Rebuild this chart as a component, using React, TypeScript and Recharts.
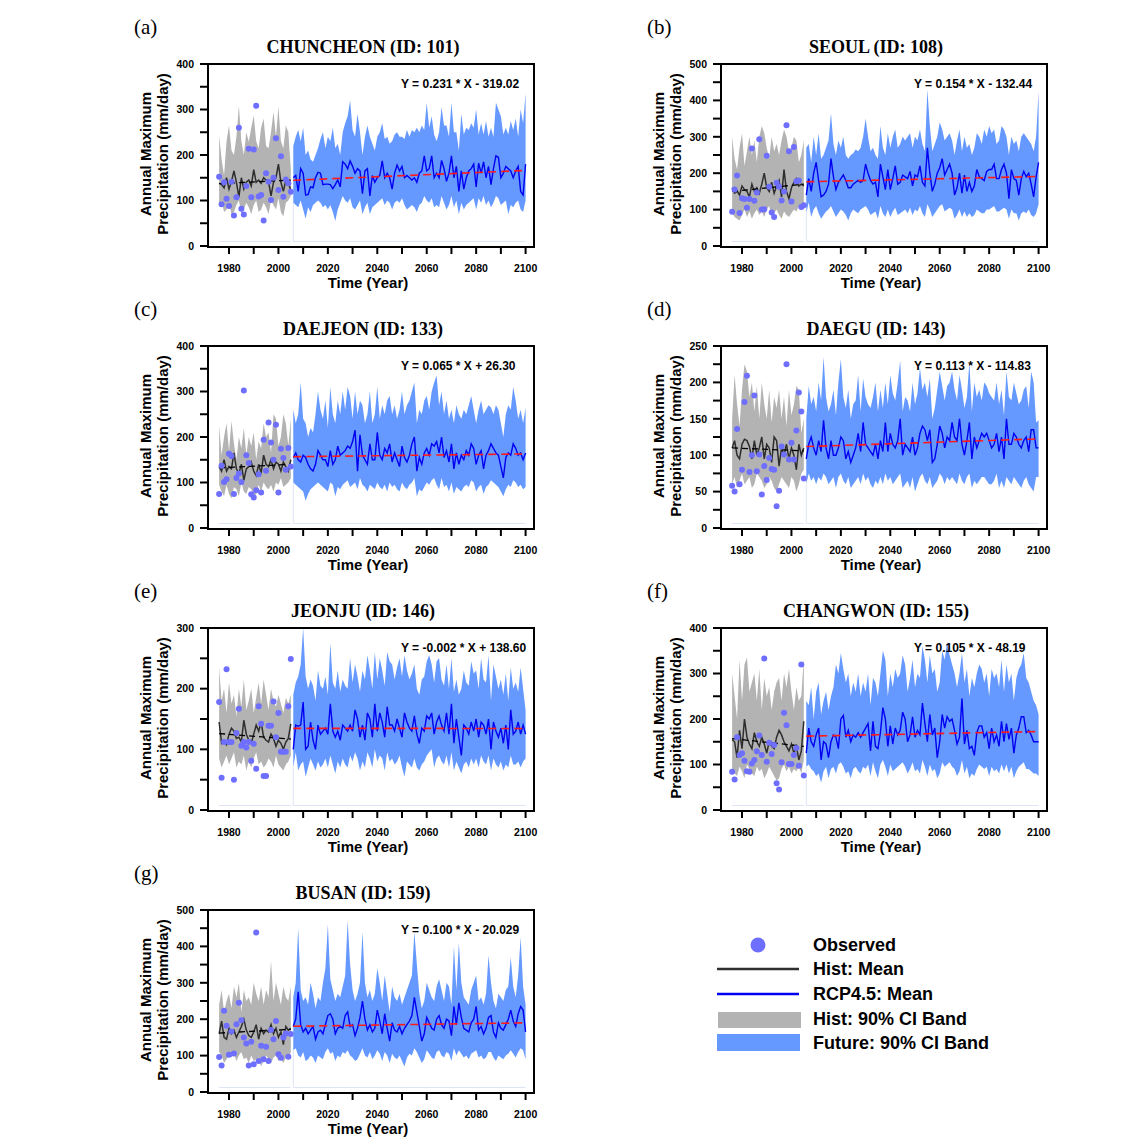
import React from "react";
import { ComposedChart, Area, Line, Scatter, XAxis, YAxis, ReferenceLine } from "recharts";

const SANS = "'Liberation Sans', Arial, sans-serif";
const SERIF = "'Liberation Serif', 'Times New Roman', serif";

const HIST_FIRST = 1976;
const FUT_FIRST = 2006;
const FUT_LAST = 2100;

const xTicks = [1980, 1990, 2000, 2010, 2020, 2030, 2040, 2050, 2060, 2070, 2080, 2090, 2100];
const yTicks250 = [0, 25, 50, 75, 100, 125, 150, 175, 200, 225, 250];
const yTicks300 = [0, 50, 100, 150, 200, 250, 300];
const yTicks400 = [0, 50, 100, 150, 200, 250, 300, 350, 400];
const yTicks500 = [0, 50, 100, 150, 200, 250, 300, 350, 400, 450, 500];

// ---- (a) CHUNCHEON ----
const chuncheonObs = [
  152, 92, 140, 104, 88, 141, 67, 107, 260, 82,
  69, 132, 214, 107, 212, 308, 109, 112, 56, 160,
  141, 101, 150, 237, 123, 197, 108, 146, 138, 119,
];
const chuncheonHistMean = [
  138, 135, 128, 150, 125, 142, 165, 140, 108, 150,
  125, 140, 145, 132, 168, 140, 145, 138, 150, 145,
  142, 110, 140, 150, 180, 140, 120, 145, 140, 122,
];
const chuncheonHistHi = [
  243, 190, 155, 230, 265, 210, 200, 240, 308, 230,
  200, 250, 229, 260, 287, 230, 215, 260, 280, 220,
  215, 250, 295, 240, 306, 230, 215, 265, 250, 170,
];
const chuncheonHistLo = [
  85, 100, 75, 80, 95, 70, 75, 90, 100, 72,
  80, 95, 85, 70, 90, 100, 75, 80, 95, 85,
  70, 100, 90, 80, 105, 75, 65, 95, 100, 110,
];
const chuncheonFutMean = [
  150, 155, 120, 170, 160, 112, 113, 130, 128, 150,
  162, 160, 135, 136, 136, 135, 126, 135, 145, 130,
  185, 180, 170, 187, 175, 160, 170, 165, 115, 165,
  170, 110, 155, 140, 150, 155, 187, 150, 160, 150,
  125, 160, 178, 165, 175, 150, 155, 150, 145, 150,
  140, 160, 165, 198, 165, 170, 198, 150, 160, 150,
  188, 170, 142, 160, 198, 150, 175, 120, 165, 125,
  150, 165, 170, 180, 130, 182, 160, 185, 150, 175,
  135, 170, 198, 195, 150, 160, 175, 170, 165, 150,
  165, 175, 120, 112, 180,
];
const chuncheonFutHi = [
  220, 240, 255, 230, 260, 200, 210, 190, 185, 200,
  215, 235, 250, 215, 240, 230, 260, 215, 225, 200,
  250, 270, 285, 320, 255, 240, 290, 250, 200, 240,
  265, 240, 225, 210, 240, 250, 270, 235, 240, 225,
  230, 245, 250, 240, 240, 235, 255, 240, 255, 250,
  260, 250, 265, 255, 315, 260, 285, 245, 230, 250,
  305, 265, 265, 240, 315, 250, 250, 210, 290, 245,
  260, 255, 270, 260, 300, 245, 270, 245, 275, 240,
  260, 240, 315, 300, 285, 245, 260, 245, 275, 255,
  280, 240, 300, 270, 335,
];
const chuncheonFutLo = [
  95, 90, 85, 100, 80, 60, 85, 75, 90, 95,
  100, 95, 85, 90, 80, 90, 75, 55, 80, 95,
  110, 100, 95, 105, 85, 80, 90, 100, 70, 85,
  95, 70, 85, 90, 95, 100, 105, 90, 100, 95,
  80, 95, 100, 95, 105, 90, 80, 85, 90, 85,
  75, 90, 95, 110, 100, 95, 105, 85, 90, 85,
  110, 95, 80, 90, 110, 85, 100, 70, 95, 80,
  90, 95, 100, 105, 80, 105, 95, 110, 90, 100,
  85, 95, 110, 105, 90, 95, 100, 70, 90, 85,
  95, 100, 80, 75, 100,
];

// ---- (b) SEOUL ----
const seoulObs = [
  94, 155, 194, 91, 131, 129, 105, 129, 268, 124,
  147, 293, 100, 101, 248, 163, 92, 80, 174, 163,
  125, 150, 332, 260, 122, 272, 178, 180, 107, 112,
];
const seoulHistMean = [
  160, 145, 150, 140, 165, 155, 150, 135, 170, 150,
  160, 145, 170, 200, 160, 150, 175, 145, 165, 180,
  135, 210, 150, 130, 160, 175, 185, 165, 170, 165,
];
const seoulHistHi = [
  300, 240, 210, 270, 310, 220, 260, 300, 250, 290,
  230, 300, 330, 310, 270, 240, 300, 260, 280, 250,
  290, 320, 300, 260, 270, 300, 290, 230, 250, 290,
];
const seoulHistLo = [
  90, 80, 75, 70, 85, 100, 80, 95, 75, 90,
  100, 85, 95, 80, 100, 110, 80, 90, 100, 85,
  75, 95, 85, 80, 90, 100, 95, 110, 100, 120,
];
const seoulFutMean = [
  140, 185, 150, 200, 230, 180, 135, 140, 150, 170,
  240, 190, 155, 175, 185, 195, 180, 160, 160, 170,
  175, 180, 175, 180, 225, 200, 180, 170, 175, 135,
  225, 190, 155, 210, 155, 185, 220, 170, 175, 195,
  190, 185, 205, 165, 195, 190, 220, 175, 165, 270,
  200, 150, 170, 200, 215, 240, 195, 210, 225, 200,
  140, 160, 200, 145, 195, 150, 175, 150, 165, 210,
  190, 185, 180, 205, 210, 210, 225, 185, 185, 210,
  225, 200, 130, 210, 185, 180, 140, 185, 205, 190,
  200, 170, 135, 190, 230,
];
const seoulFutHi = [
  270, 280, 230, 300, 250, 310, 240, 250, 270, 290,
  365, 280, 250, 290, 270, 300, 250, 240, 250, 255,
  265, 260, 270, 300, 350, 300, 260, 270, 250, 240,
  330, 270, 250, 310, 270, 300, 320, 270, 280, 300,
  290, 300, 310, 270, 300, 290, 320, 280, 260, 430,
  330, 260, 280, 300, 340, 320, 290, 300, 310, 290,
  250, 290, 320, 260, 300, 270, 280, 250, 270, 310,
  300, 280, 320, 300, 330, 310, 320, 280, 290, 330,
  320, 300, 250, 300, 280, 290, 260, 300, 310, 300,
  290, 280, 260, 300, 425,
];
const seoulFutLo = [
  90, 120, 80, 100, 110, 90, 75, 85, 95, 100,
  110, 95, 80, 90, 100, 95, 85, 70, 90, 100,
  95, 90, 100, 105, 110, 100, 85, 90, 95, 75,
  110, 90, 80, 100, 80, 95, 105, 85, 90, 95,
  100, 90, 105, 85, 100, 95, 110, 90, 80, 115,
  100, 80, 90, 100, 110, 115, 95, 100, 105, 100,
  75, 85, 100, 80, 95, 80, 90, 80, 85, 100,
  95, 90, 90, 100, 100, 105, 110, 95, 95, 100,
  105, 100, 75, 100, 90, 90, 70, 90, 95, 90,
  100, 85, 80, 90, 115,
];

// ---- (c) DAEJEON ----
const daejeonObs = [
  75, 137, 101, 107, 163, 158, 75, 110, 120, 101,
  302, 160, 143, 74, 67, 83, 118, 78, 194, 126,
  232, 188, 150, 227, 78, 174, 154, 128, 176, 135,
];
const daejeonHistMean = [
  135, 125, 150, 125, 135, 130, 165, 130, 120, 140,
  105, 130, 135, 145, 125, 115, 140, 120, 160, 140,
  135, 150, 130, 145, 140, 125, 145, 135, 125, 150,
];
const daejeonHistHi = [
  225, 160, 200, 230, 170, 235, 185, 150, 200, 175,
  220, 160, 200, 180, 210, 150, 190, 175, 230, 200,
  210, 165, 250, 240, 180, 200, 250, 230, 180, 240,
];
const daejeonHistLo = [
  95, 80, 70, 95, 75, 65, 90, 85, 70, 100,
  80, 75, 90, 85, 70, 75, 95, 80, 100, 90,
  85, 95, 80, 100, 95, 110, 90, 95, 100, 110,
];
const daejeonFutMean = [
  155, 165, 150, 145, 160, 155, 140, 130, 125, 140,
  170, 160, 150, 150, 135, 170, 140, 150, 180, 160,
  165, 170, 180, 175, 190, 215, 125, 205, 160, 150,
  140, 185, 150, 150, 210, 160, 150, 175, 165, 185,
  145, 165, 150, 135, 180, 155, 145, 160, 185, 200,
  125, 155, 140, 165, 175, 160, 185, 180, 190, 165,
  200, 155, 170, 145, 185, 130, 165, 140, 160, 150,
  170, 160, 185, 175, 140, 160, 170, 130, 160, 170,
  185, 175, 165, 160, 135, 110, 155, 165, 160, 185,
  175, 160, 165, 150, 165,
];
const daejeonFutHi = [
  260, 230, 250, 320, 240, 230, 200, 220, 210, 250,
  300, 260, 240, 280, 220, 310, 250, 230, 280, 250,
  300, 260, 310, 290, 240, 300, 250, 280, 270, 230,
  250, 300, 230, 250, 310, 240, 270, 250, 280, 290,
  250, 270, 240, 260, 300, 250, 270, 280, 300, 320,
  230, 260, 250, 280, 290, 260, 300, 320, 335, 270,
  300, 250, 280, 240, 260, 230, 270, 250, 240, 260,
  250, 270, 290, 260, 230, 260, 280, 250, 260, 270,
  265, 250, 270, 260, 230, 200, 250, 270, 260, 310,
  280, 240, 260, 230, 265,
];
const daejeonFutLo = [
  100, 95, 90, 85, 80, 60, 75, 85, 90, 95,
  100, 95, 90, 85, 80, 100, 95, 70, 90, 85,
  95, 100, 105, 90, 95, 100, 85, 110, 95, 90,
  80, 95, 90, 85, 100, 90, 85, 95, 80, 100,
  90, 95, 85, 80, 100, 90, 85, 95, 100, 110,
  70, 85, 80, 90, 100, 95, 105, 110, 95, 85,
  110, 90, 95, 80, 100, 75, 90, 85, 80, 90,
  95, 90, 105, 100, 80, 90, 95, 75, 90, 95,
  105, 100, 95, 90, 80, 70, 85, 95, 90, 105,
  100, 90, 95, 85, 90,
];

// ---- (d) DAEGU ----
const daeguObs = [
  58, 50, 136, 60, 80, 173, 209, 77, 100, 182,
  78, 101, 46, 85, 66, 96, 81, 80, 30, 51,
  112, 101, 225, 94, 117, 94, 134, 186, 160, 68,
];
const daeguHistMean = [
  110, 120, 100, 95, 115, 122, 120, 112, 95, 120,
  100, 110, 125, 95, 115, 110, 90, 125, 120, 85,
  110, 100, 115, 95, 110, 100, 80, 115, 100, 110,
];
const daeguHistHi = [
  150, 210, 170, 140, 190, 225, 215, 180, 200, 160,
  195, 150, 200, 170, 150, 190, 145, 180, 165, 190,
  150, 180, 140, 190, 155, 170, 195, 190, 130, 150,
];
const daeguHistLo = [
  60, 70, 55, 65, 75, 60, 65, 70, 55, 60,
  75, 70, 65, 55, 60, 70, 65, 55, 50, 60,
  70, 65, 60, 55, 70, 65, 50, 60, 75, 80,
];
const daeguFutMean = [
  95, 115, 125, 110, 100, 120, 105, 148, 110, 95,
  120, 100, 100, 110, 125, 120, 95, 105, 90, 100,
  110, 130, 105, 145, 115, 110, 105, 100, 115, 95,
  120, 105, 145, 105, 130, 115, 110, 120, 150, 100,
  115, 110, 105, 125, 100, 110, 130, 140, 135, 120,
  135, 90, 95, 115, 140, 130, 110, 125, 120, 145,
  125, 120, 150, 115, 100, 120, 145, 95, 125, 110,
  120, 130, 125, 130, 120, 110, 115, 130, 105, 125,
  95, 150, 115, 115, 130, 125, 115, 110, 120, 125,
  105, 135, 135, 110, 110,
];
const daeguFutHi = [
  150, 195, 170, 180, 160, 200, 175, 235, 180, 160,
  170, 190, 155, 200, 232, 180, 165, 190, 150, 170,
  175, 210, 160, 205, 180, 170, 165, 180, 200, 160,
  190, 165, 200, 170, 210, 185, 175, 200, 230, 160,
  180, 175, 160, 200, 170, 185, 220, 190, 200, 180,
  205, 150, 165, 190, 215, 195, 175, 195, 200, 215,
  190, 175, 210, 190, 165, 180, 228, 160, 200, 180,
  190, 175, 200, 195, 185, 180, 175, 200, 170, 190,
  155, 215, 180, 175, 200, 185, 170, 175, 190, 195,
  165, 215, 200, 145, 148,
];
const daeguFutLo = [
  60, 75, 65, 70, 60, 70, 65, 75, 70, 60,
  65, 70, 55, 70, 75, 65, 60, 70, 55, 60,
  65, 70, 60, 75, 65, 70, 60, 55, 65, 60,
  70, 60, 75, 65, 70, 60, 65, 70, 75, 55,
  60, 65, 55, 70, 50, 60, 70, 75, 65, 60,
  70, 55, 60, 65, 75, 70, 60, 70, 65, 70,
  65, 60, 75, 65, 60, 70, 75, 55, 65, 60,
  65, 70, 70, 65, 60, 60, 65, 75, 55, 65,
  55, 70, 65, 60, 70, 65, 60, 55, 65, 70,
  60, 55, 50, 70, 70,
];

// ---- (e) JEONJU ----
const jeonjuObs = [
  178, 53, 112, 232, 112, 112, 50, 127, 167, 106,
  112, 103, 112, 81, 109, 68, 171, 142, 56, 56,
  139, 139, 179, 120, 160, 96, 96, 96, 171, 249,
];
const jeonjuHistMean = [
  145, 110, 115, 108, 125, 135, 130, 118, 120, 112,
  148, 125, 115, 110, 125, 140, 130, 145, 120, 115,
  112, 125, 118, 105, 115, 110, 100, 112, 118, 142,
];
const jeonjuHistHi = [
  235, 180, 200, 160, 210, 175, 190, 155, 200, 170,
  215, 165, 180, 200, 160, 185, 210, 175, 215, 190,
  165, 200, 180, 170, 190, 175, 160, 185, 175, 190,
];
const jeonjuHistLo = [
  85, 70, 80, 90, 75, 85, 95, 70, 80, 75,
  90, 65, 80, 70, 85, 95, 75, 80, 70, 75,
  85, 80, 70, 90, 75, 70, 65, 75, 80, 90,
];
const jeonjuFutMean = [
  100, 140, 138, 140, 178, 100, 105, 145, 115, 100,
  140, 125, 130, 135, 125, 175, 130, 120, 130, 115,
  140, 135, 130, 140, 130, 165, 150, 120, 140, 115,
  160, 150, 120, 175, 130, 160, 145, 120, 170, 140,
  140, 130, 150, 135, 120, 160, 145, 135, 130, 155,
  125, 110, 135, 130, 155, 150, 160, 125, 145, 155,
  140, 130, 160, 125, 175, 110, 150, 120, 90, 140,
  135, 125, 145, 130, 150, 120, 145, 140, 125, 150,
  100, 145, 130, 120, 135, 110, 140, 100, 165, 125,
  130, 145, 125, 140, 125,
];
const jeonjuFutHi = [
  190, 210, 220, 240, 300, 220, 200, 215, 205, 180,
  230, 205, 200, 220, 190, 275, 210, 200, 230, 195,
  215, 205, 200, 250, 210, 240, 220, 195, 230, 215,
  255, 230, 200, 260, 215, 250, 230, 205, 260, 245,
  240, 215, 235, 250, 220, 255, 230, 215, 225, 240,
  200, 190, 215, 220, 245, 255, 240, 210, 245, 250,
  215, 205, 240, 200, 250, 195, 215, 190, 200, 230,
  210, 205, 245, 225, 230, 200, 250, 215, 210, 255,
  180, 240, 220, 200, 215, 190, 225, 180, 235, 200,
  210, 195, 235, 200, 165,
];
const jeonjuFutLo = [
  70, 95, 65, 75, 80, 55, 70, 85, 75, 65,
  80, 70, 75, 85, 70, 90, 75, 60, 80, 70,
  85, 75, 70, 90, 80, 95, 85, 65, 80, 70,
  95, 85, 70, 100, 80, 90, 85, 65, 95, 80,
  85, 75, 80, 90, 70, 55, 80, 75, 70, 85,
  70, 65, 75, 80, 90, 95, 100, 70, 85, 90,
  80, 75, 90, 70, 95, 65, 80, 70, 60, 75,
  80, 70, 85, 75, 85, 70, 90, 80, 75, 90,
  65, 85, 75, 70, 80, 65, 75, 70, 90, 75,
  75, 80, 70, 80, 85,
];

// ---- (f) CHANGWON ----
const changwonObs = [
  84, 67, 160, 121, 125, 108, 85, 84, 102, 110,
  129, 164, 121, 333, 106, 148, 123, 143, 59, 45,
  105, 214, 186, 101, 101, 121, 136, 97, 320, 76,
];
const changwonHistMean = [
  155, 150, 115, 175, 135, 200, 160, 145, 135, 170,
  150, 140, 160, 145, 125, 150, 140, 135, 160, 175,
  165, 150, 140, 130, 145, 125, 140, 110, 130, 195,
];
const changwonHistHi = [
  300, 250, 200, 330, 240, 320, 335, 260, 280, 300,
  240, 310, 220, 290, 250, 270, 220, 260, 280, 290,
  240, 300, 270, 310, 260, 220, 270, 240, 250, 335,
];
const changwonHistLo = [
  90, 80, 75, 95, 85, 70, 100, 90, 80, 75,
  95, 85, 90, 70, 80, 95, 85, 75, 65, 70,
  90, 100, 85, 95, 80, 90, 85, 95, 80, 110,
];
const changwonFutMean = [
  125, 180, 150, 140, 165, 180, 110, 150, 145, 115,
  150, 165, 160, 135, 200, 208, 160, 175, 150, 165,
  160, 170, 160, 170, 180, 190, 130, 195, 140, 135,
  170, 225, 200, 140, 185, 145, 180, 165, 175, 215,
  200, 150, 165, 205, 160, 175, 165, 235, 190, 150,
  210, 165, 180, 115, 150, 210, 180, 205, 195, 200,
  175, 145, 160, 245, 145, 175, 135, 140, 120, 170,
  185, 185, 160, 170, 135, 180, 150, 165, 140, 195,
  150, 190, 155, 180, 125, 165, 180, 205, 205, 170,
  175, 165, 150, 150, 150,
];
const changwonFutHi = [
  240, 230, 270, 200, 260, 280, 210, 240, 260, 220,
  250, 270, 320, 300, 345, 310, 280, 300, 250, 280,
  260, 300, 250, 280, 260, 300, 230, 290, 280, 250,
  300, 350, 330, 250, 300, 270, 310, 290, 300, 340,
  320, 260, 290, 330, 270, 300, 290, 360, 330, 280,
  340, 300, 310, 260, 280, 350, 330, 370, 340, 320,
  300, 270, 300, 345, 280, 310, 250, 290, 270, 300,
  320, 310, 280, 300, 250, 310, 290, 300, 270, 330,
  260, 320, 280, 300, 240, 290, 310, 320, 345, 290,
  280, 260, 240, 230, 210,
];
const changwonFutLo = [
  95, 100, 90, 85, 75, 80, 60, 85, 95, 70,
  90, 95, 80, 100, 105, 95, 80, 85, 70, 90,
  95, 85, 80, 95, 90, 100, 75, 105, 85, 70,
  100, 110, 95, 75, 100, 85, 90, 95, 100, 105,
  95, 80, 90, 105, 85, 90, 80, 110, 95, 75,
  100, 85, 90, 70, 80, 105, 95, 100, 105, 95,
  90, 75, 85, 110, 80, 95, 70, 80, 75, 90,
  100, 95, 90, 95, 75, 95, 85, 90, 80, 100,
  85, 100, 80, 95, 70, 85, 95, 100, 105, 90,
  90, 85, 80, 80, 75,
];

// ---- (g) BUSAN ----
const busanObs = [
  96, 73, 223, 182, 102, 166, 106, 186, 245, 197,
  150, 133, 73, 138, 76, 438, 85, 127, 90, 124,
  85, 170, 145, 195, 104, 94, 150, 161, 97, 159,
];
const busanHistMean = [
  160, 195, 150, 145, 175, 160, 170, 150, 165, 180,
  200, 170, 155, 150, 165, 185, 145, 175, 160, 170,
  165, 185, 160, 175, 150, 165, 130, 180, 170, 175,
];
const busanHistHi = [
  240, 280, 220, 250, 270, 230, 290, 260, 300, 220,
  280, 250, 260, 240, 300, 270, 250, 290, 240, 280,
  260, 360, 250, 300, 270, 240, 290, 260, 250, 290,
];
const busanHistLo = [
  110, 100, 80, 90, 100, 95, 105, 85, 100, 110,
  90, 95, 80, 100, 85, 90, 95, 70, 85, 100,
  90, 80, 95, 100, 85, 90, 80, 95, 90, 110,
];
const busanFutMean = [
  180, 200, 275, 185, 165, 175, 160, 170, 180, 145,
  165, 170, 160, 185, 210, 215, 200, 160, 175, 180,
  175, 210, 220, 180, 185, 155, 175, 205, 250, 200,
  170, 185, 165, 175, 225, 195, 160, 215, 175, 140,
  190, 170, 165, 180, 160, 175, 185, 195, 210, 260,
  220, 180, 140, 160, 205, 190, 175, 170, 200, 210,
  185, 175, 200, 195, 155, 235, 185, 245, 205, 175,
  170, 165, 190, 200, 235, 170, 180, 160, 175, 205,
  210, 165, 150, 190, 175, 170, 185, 200, 225, 195,
  180, 215, 235, 225, 165,
];
const busanFutHi = [
  260, 300, 450, 280, 250, 260, 240, 300, 270, 230,
  260, 250, 300, 340, 460, 310, 280, 250, 270, 260,
  290, 320, 470, 350, 280, 250, 270, 300, 440, 300,
  260, 280, 250, 270, 340, 300, 250, 320, 270, 220,
  290, 260, 250, 270, 240, 260, 280, 300, 320, 440,
  350, 270, 230, 250, 300, 280, 260, 250, 290, 310,
  280, 250, 300, 290, 240, 400, 280, 410, 300, 260,
  250, 240, 280, 300, 320, 250, 260, 240, 270, 375,
  300, 250, 230, 270, 260, 250, 280, 290, 370, 290,
  260, 320, 425, 290, 240,
];
const busanFutLo = [
  115, 120, 100, 95, 110, 85, 90, 100, 95, 80,
  100, 95, 90, 110, 120, 105, 110, 85, 100, 95,
  110, 105, 115, 100, 95, 85, 90, 105, 120, 100,
  95, 110, 90, 100, 115, 105, 85, 110, 100, 80,
  105, 95, 90, 100, 85, 70, 95, 105, 100, 120,
  110, 95, 80, 90, 115, 105, 95, 90, 110, 115,
  100, 95, 110, 105, 85, 120, 100, 115, 105, 95,
  100, 90, 105, 110, 115, 95, 100, 90, 95, 110,
  110, 95, 85, 100, 95, 90, 100, 105, 115, 105,
  95, 110, 120, 115, 90,
];

type Station = {
  tag: string;
  title: string;
  eq: string;
  slope: number;
  intercept: number;
  histTrend: number[];
  yTicks: number[];
  labelStep: number;
  obs: number[];
  histMean: number[];
  histLo: number[];
  histHi: number[];
  futMean: number[];
  futLo: number[];
  futHi: number[];
};

const stations: Station[] = [
  { tag: "(a)", title: "CHUNCHEON (ID: 101)", eq: "Y = 0.231 * X - 319.02", slope: 0.231, intercept: -319.02, histTrend: [137, 145], yTicks: yTicks400, labelStep: 100, obs: chuncheonObs, histMean: chuncheonHistMean, histLo: chuncheonHistLo, histHi: chuncheonHistHi, futMean: chuncheonFutMean, futLo: chuncheonFutLo, futHi: chuncheonFutHi },
  { tag: "(b)", title: "SEOUL (ID: 108)", eq: "Y = 0.154 * X - 132.44", slope: 0.154, intercept: -132.44, histTrend: [150, 170], yTicks: yTicks500, labelStep: 100, obs: seoulObs, histMean: seoulHistMean, histLo: seoulHistLo, histHi: seoulHistHi, futMean: seoulFutMean, futLo: seoulFutLo, futHi: seoulFutHi },
  { tag: "(c)", title: "DAEJEON (ID: 133)", eq: "Y = 0.065 * X + 26.30", slope: 0.065, intercept: 26.3, histTrend: [132, 140], yTicks: yTicks400, labelStep: 100, obs: daejeonObs, histMean: daejeonHistMean, histLo: daejeonHistLo, histHi: daejeonHistHi, futMean: daejeonFutMean, futLo: daejeonFutLo, futHi: daejeonFutHi },
  { tag: "(d)", title: "DAEGU (ID: 143)", eq: "Y = 0.113 * X - 114.83", slope: 0.113, intercept: -114.83, histTrend: [110, 106], yTicks: yTicks250, labelStep: 50, obs: daeguObs, histMean: daeguHistMean, histLo: daeguHistLo, histHi: daeguHistHi, futMean: daeguFutMean, futLo: daeguFutLo, futHi: daeguFutHi },
  { tag: "(e)", title: "JEONJU (ID: 146)", eq: "Y = -0.002 * X + 138.60", slope: -0.002, intercept: 138.6, histTrend: [126, 117], yTicks: yTicks300, labelStep: 100, obs: jeonjuObs, histMean: jeonjuHistMean, histLo: jeonjuHistLo, histHi: jeonjuHistHi, futMean: jeonjuFutMean, futLo: jeonjuFutLo, futHi: jeonjuFutHi },
  { tag: "(f)", title: "CHANGWON (ID: 155)", eq: "Y = 0.105 * X - 48.19", slope: 0.105, intercept: -48.19, histTrend: [157, 140], yTicks: yTicks400, labelStep: 100, obs: changwonObs, histMean: changwonHistMean, histLo: changwonHistLo, histHi: changwonHistHi, futMean: changwonFutMean, futLo: changwonFutLo, futHi: changwonFutHi },
  { tag: "(g)", title: "BUSAN (ID: 159)", eq: "Y = 0.100 * X - 20.029", slope: 0.1, intercept: -20.029, histTrend: [162, 172], yTicks: yTicks500, labelStep: 100, obs: busanObs, histMean: busanHistMean, histLo: busanHistLo, histHi: busanHistHi, futMean: busanFutMean, futLo: busanFutLo, futHi: busanFutHi },
];

const GREY_BAND = "#b3b3b3";
const BLUE_BAND = "#6699ff";
const HIST_LINE = "#2e2e2e";
const FUT_LINE = "#0000f0";
const OBS_DOT = "#6e6eff";
const FAINT = "#dde4f4";

function buildRows(s: Station) {
  const rows: any[] = [];
  const histLast = HIST_FIRST + s.histMean.length - 1;
  for (let y = HIST_FIRST; y <= FUT_LAST; y++) {
    const h = y - HIST_FIRST;
    const f = y - FUT_FIRST;
    const inHist = h < s.histMean.length;
    const inFut = f >= 0 && f < s.futMean.length;
    rows.push({
      year: y,
      histBand: inHist ? [s.histLo[h], s.histHi[h]] : null,
      histMean: inHist ? s.histMean[h] : null,
      futBand: inFut ? [s.futLo[f], s.futHi[f]] : null,
      futMean: inFut ? s.futMean[f] : null,
      histTrend: y === HIST_FIRST ? s.histTrend[0] : y === histLast ? s.histTrend[1] : null,
      futTrend: y === FUT_FIRST || y === FUT_LAST ? s.slope * y + s.intercept : null,
    });
  }
  return rows;
}

const PW = 325;
const PH = 182;
const tickStyle = { fontSize: 10.5, fontWeight: 700, fill: "#000", fontFamily: SANS };

function Panel({ s, left, top }: { s: Station; left: number; top: number }) {
  const rows = buildRows(s);
  const obsRows = s.obs.map((v, i) => ({ year: HIST_FIRST + i, obs: v }));
  const yMax = s.yTicks[s.yTicks.length - 1];
  const floor = yMax * 0.025;
  const histLast = HIST_FIRST + s.histMean.length - 1;
  return (
    <>
      <div style={{ position: "absolute", left: left - 50, top: top - 10 }}>
        <ComposedChart width={PW + 60} height={PH + 50} data={rows} margin={{ top: 10, right: 10, bottom: 0, left: 0 }}>
          <XAxis
            dataKey="year"
            type="number"
            domain={[1971.5, 2103]}
            allowDataOverflow
            ticks={xTicks}
            interval={0}
            tickFormatter={(v: number) => (v % 20 === 0 ? String(v) : "")}
            axisLine={false}
            tickLine={{ stroke: "#000", strokeWidth: 2 }}
            tickSize={8}
            tickMargin={11}
            height={40}
            tick={tickStyle}
          />
          <YAxis
            type="number"
            domain={[0, yMax]}
            allowDataOverflow
            ticks={s.yTicks}
            interval={0}
            tickFormatter={(v: number) => (v % s.labelStep === 0 ? String(v) : "")}
            axisLine={false}
            tickLine={{ stroke: "#000", strokeWidth: 2 }}
            tickSize={8}
            tickMargin={6}
            width={50}
            tick={tickStyle}
          />
          <ReferenceLine segment={[{ x: HIST_FIRST, y: floor }, { x: histLast, y: floor }]} stroke={FAINT} strokeWidth={1} />
          <ReferenceLine segment={[{ x: FUT_FIRST, y: floor }, { x: FUT_LAST, y: floor }]} stroke={FAINT} strokeWidth={1} />
          <ReferenceLine segment={[{ x: FUT_FIRST, y: floor }, { x: FUT_FIRST, y: s.futLo[0] }]} stroke={FAINT} strokeWidth={1} />
          <Area dataKey="histBand" stroke="none" fill={GREY_BAND} fillOpacity={1} isAnimationActive={false} dot={false} activeDot={false} />
          <Area dataKey="futBand" stroke="none" fill={BLUE_BAND} fillOpacity={1} isAnimationActive={false} dot={false} activeDot={false} />
          <Line dataKey="histMean" stroke={HIST_LINE} strokeWidth={1.5} dot={false} activeDot={false} isAnimationActive={false} />
          <Line dataKey="futMean" stroke={FUT_LINE} strokeWidth={1.4} dot={false} activeDot={false} isAnimationActive={false} />
          <Line dataKey="histTrend" stroke="#000" strokeWidth={1.3} strokeDasharray="6 4" connectNulls dot={false} activeDot={false} isAnimationActive={false} />
          <Line dataKey="futTrend" stroke="#ff1a1a" strokeWidth={1.6} strokeDasharray="8 5" connectNulls dot={false} activeDot={false} isAnimationActive={false} />
          <Scatter
            data={obsRows}
            dataKey="obs"
            isAnimationActive={false}
            shape={(p: any) => <circle cx={p.cx} cy={p.cy} r={3} fill={OBS_DOT} />}
          />
        </ComposedChart>
      </div>
      <div
        style={{
          position: "absolute",
          left: left - 1,
          top: top - 1,
          width: PW + 3,
          height: PH + 3,
          border: "2.5px solid #000",
          boxSizing: "border-box",
          pointerEvents: "none",
        }}
      />
      <svg
        width={420}
        height={300}
        style={{ position: "absolute", left: left - 80, top: top - 50, pointerEvents: "none", overflow: "visible" }}
      >
        <text x={6} y={13} fontFamily={SERIF} fontSize={21} dominantBaseline="central">
          {s.tag}
        </text>
        <text x={235} y={33} fontFamily={SERIF} fontSize={18} fontWeight={700} textAnchor="middle" dominantBaseline="central">
          {s.title}
        </text>
        <text x={273} y={70} fontFamily={SANS} fontSize={12} fontWeight={700} dominantBaseline="central">
          {s.eq}
        </text>
        <text x={240} y={268} fontFamily={SANS} fontSize={15} fontWeight={700} textAnchor="middle" dominantBaseline="central">
          Time (Year)
        </text>
        <g transform={`translate(17, 140) rotate(-90)`}>
          <text x={0} y={0} fontFamily={SANS} fontSize={15} fontWeight={700} textAnchor="middle" dominantBaseline="central">
            Annual Maximum
          </text>
          <text x={0} y={17} fontFamily={SANS} fontSize={15} fontWeight={700} textAnchor="middle" dominantBaseline="central">
            Precipitation (mm/day)
          </text>
        </g>
      </svg>
    </>
  );
}

const colLeft = [208, 721];
const rowTop = [64, 346, 628, 910];

function LegendBox() {
  const txt = { fontFamily: SANS, fontSize: 18, fontWeight: 700, fill: "#000" } as const;
  return (
    <svg width={320} height={130} style={{ position: "absolute", left: 700, top: 930 }}>
      <circle cx={58} cy={15} r={7.5} fill={OBS_DOT} />
      <text x={113} y={15} dominantBaseline="central" {...txt}>Observed</text>
      <line x1={17} x2={99} y1={39} y2={39} stroke={HIST_LINE} strokeWidth={2.5} />
      <text x={113} y={39} dominantBaseline="central" {...txt}>Hist: Mean</text>
      <line x1={17} x2={99} y1={64} y2={64} stroke={FUT_LINE} strokeWidth={2.5} />
      <text x={113} y={64} dominantBaseline="central" {...txt}>RCP4.5: Mean</text>
      <rect x={18} y={82} width={83} height={16} fill={GREY_BAND} />
      <text x={113} y={89} dominantBaseline="central" {...txt}>Hist: 90% CI Band</text>
      <rect x={17} y={104} width={83} height={17} fill={BLUE_BAND} />
      <text x={113} y={113} dominantBaseline="central" {...txt}>Future: 90% CI Band</text>
    </svg>
  );
}

export default function App() {
  return (
    <div style={{ position: "absolute", left: 0, top: 0, width: 1148, height: 1147, background: "#fff" }}>
      {stations.map((s, i) => (
        <Panel key={s.tag} s={s} left={colLeft[i % 2]} top={rowTop[Math.floor(i / 2)]} />
      ))}
      <LegendBox />
    </div>
  );
}
